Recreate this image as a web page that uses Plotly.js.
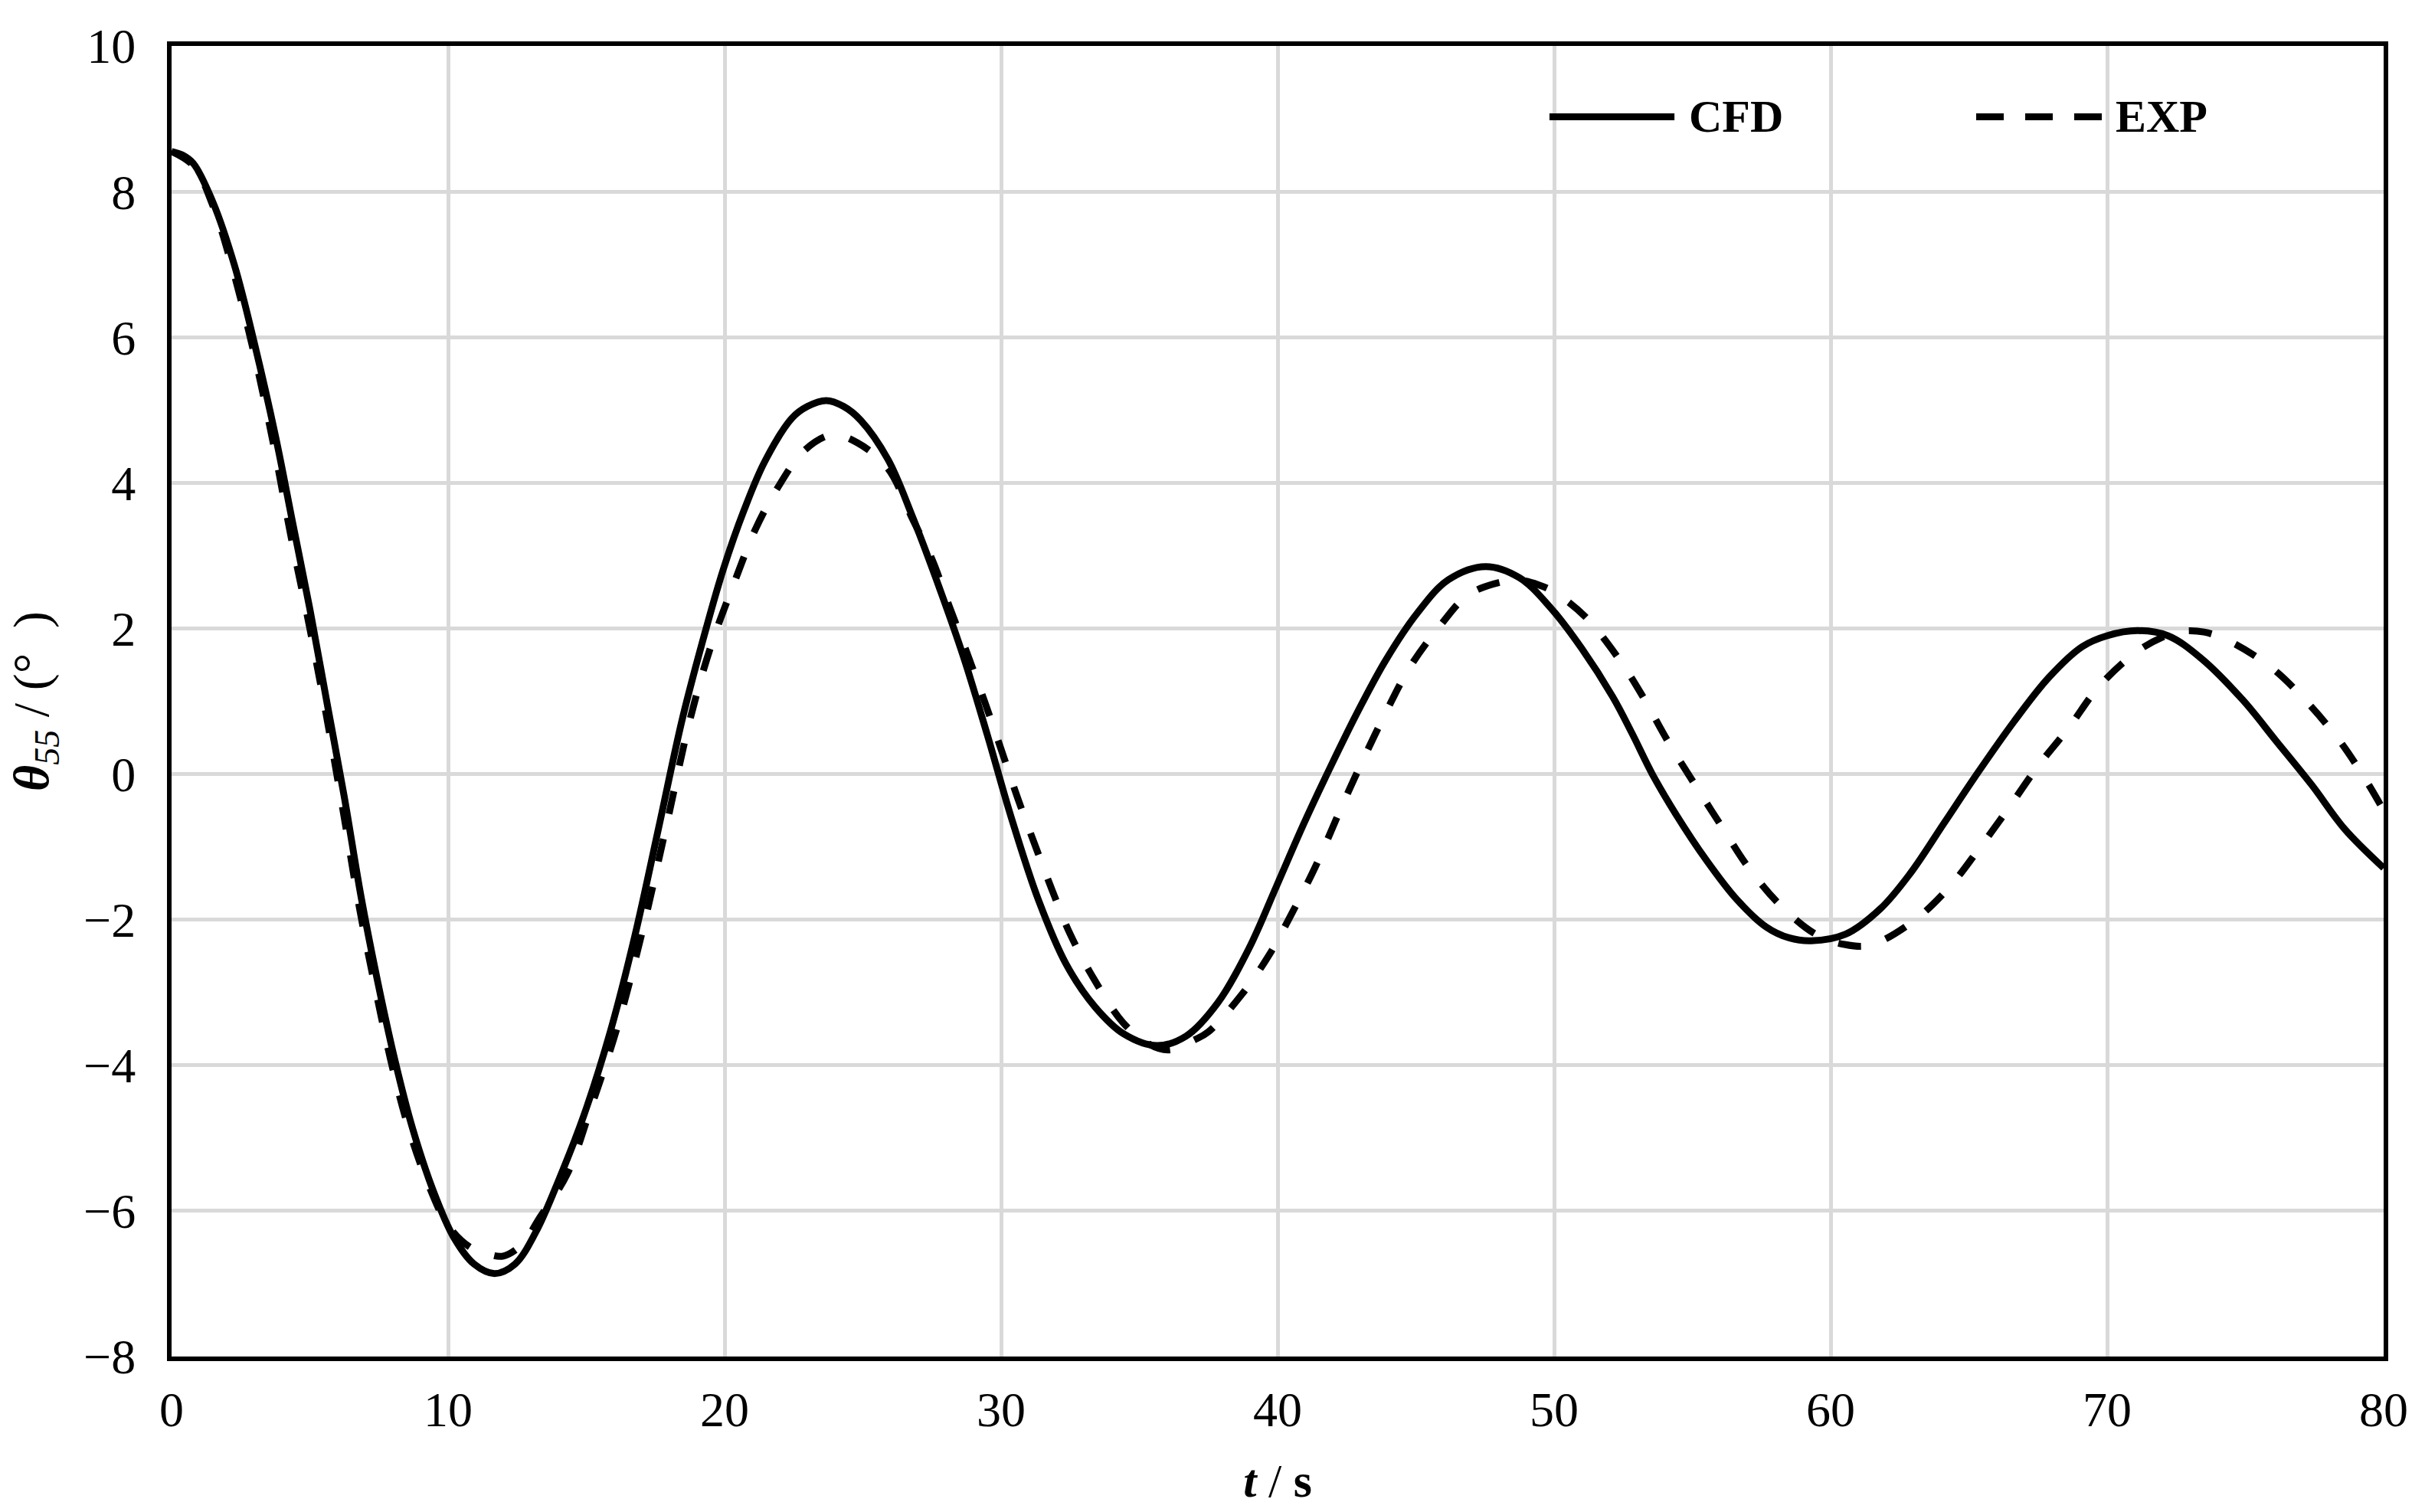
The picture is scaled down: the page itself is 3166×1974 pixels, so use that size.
<!DOCTYPE html>
<html>
<head>
<meta charset="utf-8">
<script src="https://cdn.plot.ly/plotly-3.0.1.min.js"></script>
<style>
html,body{margin:0;padding:0;background:#fff;}
#chart{width:3166px;height:1974px;}
</style>
</head>
<body>
<div id="chart"></div>
<script>
// ---- data ----
var cfdT = [0, 0.4, 0.8, 1.5, 2.28, 3.0, 3.77, 4.38, 5.0, 5.62, 6.24, 6.86, 7.47, 8.09, 8.71, 9.45, 10.2, 10.94, 11.68, 12.42, 13.16, 14.03, 14.9, 15.88, 16.75, 17.62, 18.48, 19.34, 19.96, 20.7, 21.45, 22.44, 23.0, 23.68, 24.3, 24.92, 25.91, 26.78, 27.65, 28.64, 29.5, 30.37, 31.36, 32.35, 33.4, 34.44, 35.64, 36.69, 37.84, 38.97, 39.96, 40.95, 41.94, 42.93, 43.92, 45.05, 46.18, 47.52, 48.73, 49.86, 50.99, 52.12, 52.83, 53.55, 54.4, 55.5, 56.6, 57.67, 58.5, 59.3, 60.54, 61.8, 62.87, 64.1, 65.29, 66.63, 67.9, 69.1, 70.0, 71.1, 72.2, 73.4, 74.9, 76.1, 77.4, 78.6, 80.0];
var cfdV = [8.55, 8.5, 8.38, 7.85, 6.98, 5.91, 4.62, 3.45, 2.27, 0.98, -0.30, -1.70, -2.88, -3.95, -4.86, -5.71, -6.36, -6.73, -6.86, -6.73, -6.30, -5.55, -4.70, -3.52, -2.23, -0.73, 0.77, 2.01, 2.82, 3.62, 4.29, 4.89, 5.05, 5.13, 5.05, 4.86, 4.32, 3.55, 2.68, 1.61, 0.54, -0.60, -1.74, -2.61, -3.2, -3.57, -3.73, -3.6, -3.14, -2.39, -1.54, -0.68, 0.12, 0.88, 1.57, 2.21, 2.67, 2.85, 2.70, 2.29, 1.73, 1.06, 0.55, 0.0, -0.55, -1.18, -1.72, -2.10, -2.25, -2.29, -2.20, -1.85, -1.37, -0.675, 0.0, 0.72, 1.33, 1.75, 1.90, 1.97, 1.90, 1.59, 1.02, 0.46, -0.15, -0.76, -1.29];

var expT = [0, 0.8, 1.5, 2.2, 3.0, 3.7, 4.3, 5.0, 5.6, 6.2, 6.8, 7.4, 8.0, 8.6, 9.3, 10.0, 10.8, 11.5, 12.0, 12.7, 13.3, 14.3, 15.15, 16.1, 17.0, 17.9, 18.75, 19.5, 20.4, 21.1, 21.9, 22.9, 23.9, 24.8, 25.9, 26.8, 27.5, 28.15, 28.75, 29.4, 30.0, 30.6, 31.25, 31.85, 32.5, 33.35, 34.4, 35.3, 36.05, 37.0, 37.5, 38.7, 39.67, 40.52, 41.37, 42.36, 43.07, 43.92, 44.77, 45.9, 46.89, 48.0, 48.8, 49.43, 50.0, 51.13, 52.4, 53.2, 54.1, 55.1, 56.06, 57.04, 58.2, 59.46, 60.5, 61.43, 62.96, 64.3, 65.38, 66.45, 67.5, 68.6, 69.7, 71.0, 72.0, 72.7, 73.5, 74.4, 75.95, 77.2, 78.4, 79.4, 80.0];
var expV = [8.55, 8.35, 7.8, 6.95, 5.75, 4.5, 3.3, 2.0, 0.8, -0.5, -1.85, -3.0, -4.05, -4.9, -5.65, -6.2, -6.5, -6.6, -6.62, -6.45, -6.1, -5.5, -4.6, -3.5, -2.2, -0.7, 0.75, 1.75, 2.68, 3.35, 3.92, 4.45, 4.66, 4.55, 4.2, 3.5, 2.95, 2.28, 1.68, 1.0, 0.34, -0.33, -1.0, -1.6, -2.2, -2.81, -3.41, -3.7, -3.79, -3.65, -3.54, -3.03, -2.50, -1.91, -1.27, -0.41, 0.18, 0.85, 1.46, 2.05, 2.46, 2.63, 2.66, 2.6, 2.5, 2.16, 1.55, 1.07, 0.46, -0.15, -0.72, -1.29, -1.81, -2.20, -2.34, -2.35, -2.03, -1.55, -1.02, -0.46, 0.11, 0.63, 1.20, 1.66, 1.88, 1.96, 1.95, 1.83, 1.46, 1.0, 0.46, -0.11, -0.5];

var seriesNames = ['CFD', 'EXP'];
var xTicks = [0, 10, 20, 30, 40, 50, 60, 70, 80];
var yTicks = [-8, -6, -4, -2, 0, 2, 4, 6, 8, 10];

var serif = '"Liberation Serif", "Times New Roman", Times, serif';

var traces = [
  {x: cfdT, y: cfdV, name: seriesNames[0], type: 'scatter', mode: 'lines',
   line: {color: '#000000', width: 9, shape: 'spline', smoothing: 1.0}, showlegend: false},
  {x: expT, y: expV, name: seriesNames[1], type: 'scatter', mode: 'lines',
   line: {color: '#000000', width: 9, dash: '30px,34px', shape: 'spline', smoothing: 1.0}, showlegend: false}
];

// legend drawn as paper-positioned samples + labels
var legY = 0.946;
var shapes = [
  {type: 'line', xref: 'paper', yref: 'paper', x0: 0.6229, x1: 0.6794, y0: legY, y1: legY,
   line: {color: '#000', width: 9}},
  {type: 'line', xref: 'paper', yref: 'paper', x0: 0.8158, x1: 0.8726, y0: legY, y1: legY,
   line: {color: '#000', width: 9, dash: '36px,28px'}}
];
var annotations = [
  {xref: 'paper', yref: 'paper', x: 0.6852, y: legY, xanchor: 'left', yanchor: 'middle',
   text: '<b>' + seriesNames[0] + '</b>', showarrow: false,
   font: {family: serif, size: 60, color: '#000'}},
  {xref: 'paper', yref: 'paper', x: 0.8780, y: legY, xanchor: 'left', yanchor: 'middle',
   text: '<b>' + seriesNames[1] + '</b>', showarrow: false,
   font: {family: serif, size: 60, color: '#000'}}
];

var layout = {
  width: 3166, height: 1974,
  margin: {l: 224, r: 54, t: 60, b: 203},
  paper_bgcolor: '#ffffff', plot_bgcolor: '#ffffff',
  font: {family: serif, size: 62, color: '#000'},
  showlegend: false,
  xaxis: {
    range: [0, 80], tickvals: xTicks, ticktext: xTicks.map(String),
    showgrid: true, gridcolor: '#d9d9d9', gridwidth: 5,
    showline: true, linecolor: '#000', linewidth: 6, mirror: true,
    ticks: '', zeroline: false, ticklabelstandoff: 8,
    tickfont: {family: serif, size: 64, color: '#000'},
    title: {text: '<b><i>t</i></b> / <b>s</b>', font: {family: serif, size: 62, color: '#000'}, standoff: 38},
    automargin: false
  },
  yaxis: {
    range: [-8, 10], tickvals: yTicks,
    showgrid: true, gridcolor: '#d9d9d9', gridwidth: 5,
    showline: true, linecolor: '#000', linewidth: 6, mirror: true,
    ticks: '', zeroline: false, ticklabelstandoff: 28,
    tickfont: {family: serif, size: 64, color: '#000'},
    title: {text: '<b><i>θ</i></b><sub><i>55</i></sub> / (°\u00a0\u00a0)', font: {family: serif, size: 66, color: '#000'}, standoff: 26},
    automargin: false
  },
  shapes: shapes,
  annotations: annotations
};

Plotly.newPlot('chart', traces, layout, {displayModeBar: false, staticPlot: true});
</script>
</body>
</html>
